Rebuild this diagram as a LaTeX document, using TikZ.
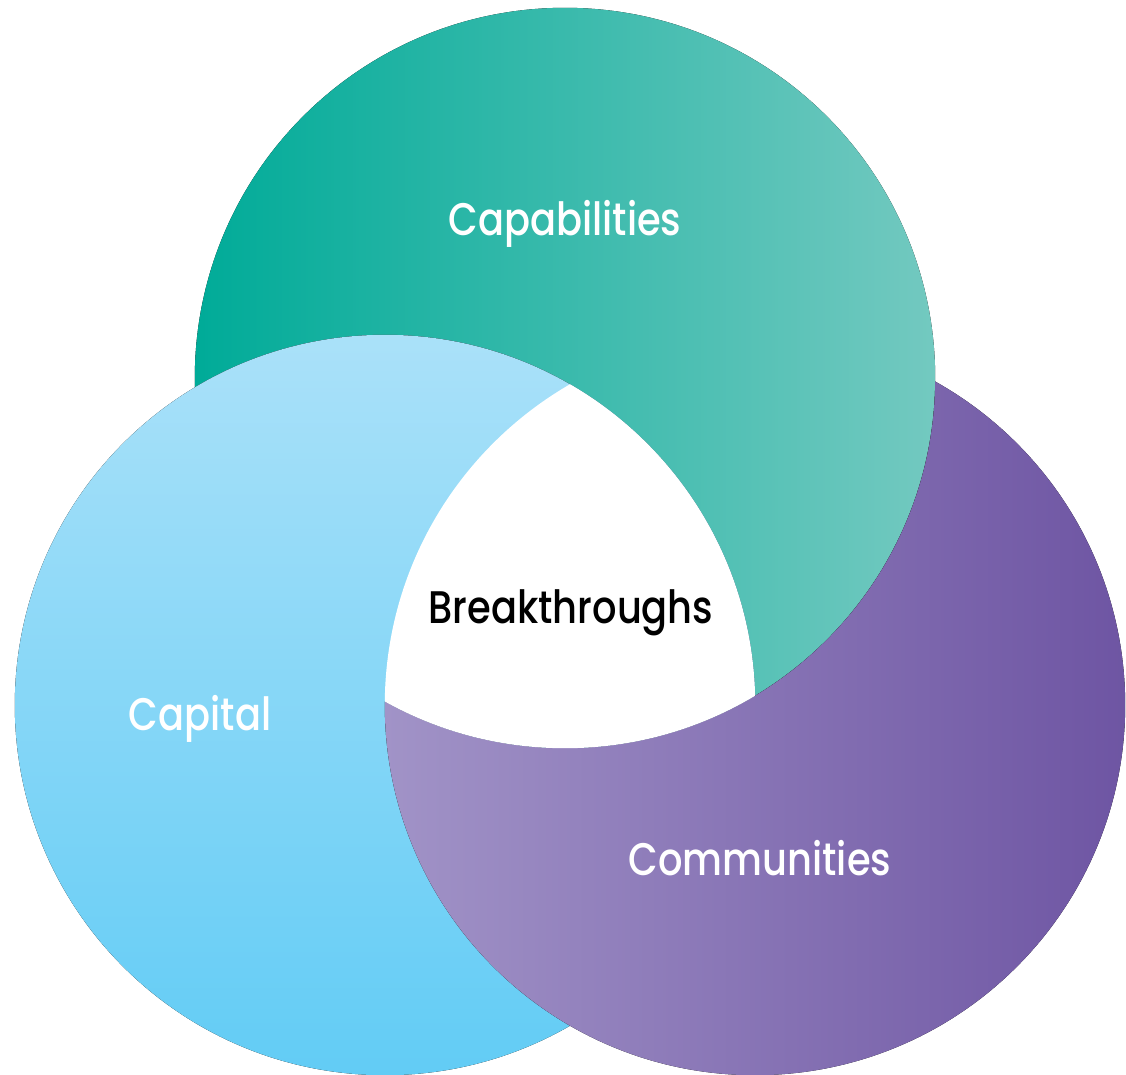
\documentclass[tikz,border=0pt]{standalone}
\usepackage{fontspec}
\setmainfont{Poppins Medium}[FakeStretch=0.84]
\usepackage{xcolor}
\usepackage{tikz}
\usetikzlibrary{positioning}
\definecolor{vnTealDark}{HTML}{00AB98}
\definecolor{vnTeal}{HTML}{00B8AA}
\definecolor{vnTealLight}{HTML}{73C9C0}
\definecolor{vnSkyTop}{HTML}{AAE1F9}
\definecolor{vnSkyBottom}{HTML}{62CCF5}
\definecolor{vnPlumLight}{HTML}{A193C7}
\definecolor{vnPlum}{HTML}{7862AA}
\definecolor{vnPlumDark}{HTML}{6E55A3}
\newcommand{\vnradius}{3.7cm}
\tikzset{
  vn diagram/.style={x=0.01cm, y=-0.01cm},
  vn capabilities/.style={left color=vnTealDark, middle color=vnTeal,
    right color=vnTealLight},
  vn capital/.style={top color=vnSkyTop, bottom color=vnSkyBottom},
  vn communities/.style={left color=vnPlumLight, middle color=vnPlum,
    right color=vnPlumDark},
  vn label/.style={font=\fontsize{13}{15}\selectfont, text=white,
    inner sep=0pt},
  vn core/.style={vn label, text=black}
}

\begin{document}
\begin{tikzpicture}[vn diagram]
\useasboundingbox (0,0) rectangle (1126,1075);
\coordinate (capabilities c) at (565,378);
\coordinate (capital c) at (385,705);
\coordinate (communities c) at (755,705);
% teal under blue, blue under purple, purple under teal
\fill[vn capabilities] (capabilities c) circle[radius=\vnradius];
\fill[vn capital] (capital c) circle[radius=\vnradius];
\begin{scope}[even odd rule]
  \clip (-10,-10) rectangle (1140,1090)
    (capabilities c) circle[radius=\vnradius];
  \fill[vn communities] (communities c) circle[radius=\vnradius];
\end{scope}
% the common part stays blank
\begin{scope}
  \clip (capabilities c) circle[radius=\vnradius];
  \clip (capital c) circle[radius=\vnradius];
  \fill[white] (communities c) circle[radius=\vnradius];
\end{scope}
\node[vn label, anchor=base] (capabilities) at (565,235) {Capabilities};
\node[vn label, anchor=base] (capital) at (200,730) {Capital};
\node[vn label, anchor=base] (communities) at (760,875) {Communities};
\node[vn core, anchor=base] (breakthroughs) at (571,623) {Breakthroughs};
\end{tikzpicture}
\end{document}
